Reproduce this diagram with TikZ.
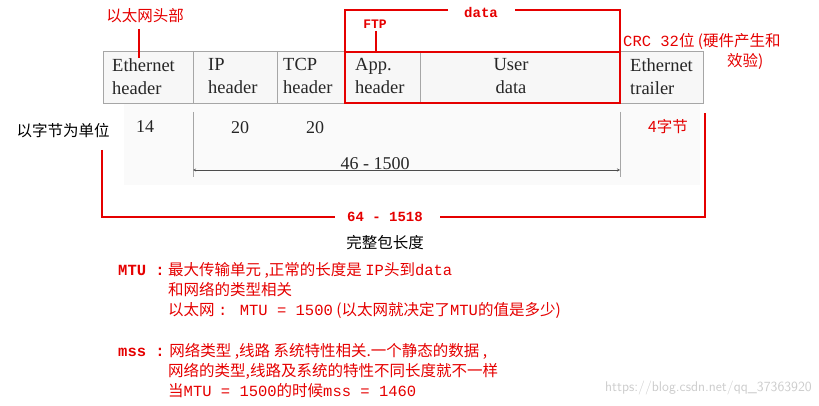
\documentclass[tikz,border=0pt]{standalone}
\usepackage{fontspec}
\setmainfont{Liberation Serif}
\newfontfamily\cjk{Noto Sans CJK SC}
\newfontfamily\mono{Liberation Mono}
\begin{document}
\begin{tikzpicture}[x=1pt,y=-1pt,
  cell/.style={font=\fontsize{18.5}{23}\selectfont,align=left,anchor=north west,inner sep=0,text=black!85},
  num/.style={font=\fontsize{18}{18}\selectfont,inner sep=0,text=black!85},
  red/.style={draw=red!90!black,line width=2.2pt},
  rtxt/.style={text=red!90!black,font=\cjk\fontsize{15.5}{18}\selectfont,inner sep=0,anchor=west},
  ktxt/.style={text=black,font=\cjk\fontsize{15.5}{18}\selectfont,inner sep=0}]
\useasboundingbox (0,0) rectangle (819,406);
\fill[gray!6] (103,51) rectangle (703,103);
\fill[gray!4] (124,103) rectangle (700,185);
\draw[gray!70,line width=0.8pt] (103,51) rectangle (703,103);
\foreach \x in {193,277,345,420,620} \draw[gray!70,line width=0.8pt] (\x,51) -- (\x,103);
\node[cell] (eh) at (112,58) {Ethernet\\header};
\node[cell] (iph) at (208,58) {IP\\header};
\node[cell] (tcph) at (283,58) {TCP\\header};
\node[cell] (apph) at (355,58) {App.\\header};
\node[cell,align=center,anchor=north] (ud) at (511,58) {User\\data};
\node[cell] (et) at (630,58) {Ethernet\\trailer};
\node[num] (n14) at (145,127) {14};
\node[num] (n20a) at (240,128) {20};
\node[num] (n20b) at (315,128) {20};
\node[ktxt] (unit) at (63,131) {以字节为单位};
\node[rtxt,anchor=center] (b4) at (668,127) {4字节};
\coordinate (la) at (193,112); \coordinate (lb) at (193,177);
\coordinate (ra) at (620,112); \coordinate (rb) at (620,177);
\draw[gray!70] (la) -- (lb); \draw[gray!70] (ra) -- (rb);
\coordinate (aa) at (193,170); \coordinate (ab) at (620,170);
\draw[gray!60!black,<->,>=stealth] (aa) -- (ab);
\node[num] (rng) at (375,164) {46 - 1500};
% red data box
\node[text=red!90!black,font=\mono\bfseries\fontsize{14}{14}\selectfont,inner sep=0] (dl) at (481,12) {data};
\draw[red] (448,10) -| (345,103) -- (620,103) |- (515,10);
\draw[red] (345,52) -- (620,52);
\node[text=red!90!black,font=\mono\bfseries\fontsize{13}{13}\selectfont,inner sep=0] (ftp) at (375,24) {FTP};
\draw[red] (376,31) -- (376,52);
\node[rtxt,anchor=center] (eth) at (145,16) {以太网头部};
\draw[red] (139,29) -- (139,58);
\node[rtxt] (crc) at (623,41) {{\mono CRC 32}位 (硬件产生和};
\node[rtxt] (crc2) at (727,61) {效验)};
% bracket
\node[text=red!90!black,font=\mono\bfseries\fontsize{14}{14}\selectfont,inner sep=0] (tot) at (385,217) {64 - 1518};
\draw[red] (102,150) |- (335,217);
\draw[red] (440,217) -| (705,113);
\node[ktxt] (len) at (385,243) {完整包长度};
\node[rtxt] (t1) at (118,270) {{\mono\bfseries MTU :} 最大传输单元 ,正常的长度是 {\mono IP}头到{\mono data}};
\node[rtxt] (t2) at (168,290) {和网络的类型相关};
\node[rtxt] (t3) at (168,310) {以太网 {\mono : MTU = 1500} (以太网就决定了{\mono MTU}的值是多少)};
\node[rtxt] (t4) at (118,351) {{\mono\bfseries mss :} 网络类型 ,线路 系统特性相关.一个静态的数据 ,};
\node[rtxt] (t5) at (168,371) {网络的类型,线路及系统的特性不同长度就不一样};
\node[rtxt] (t6) at (168,391) {当{\mono MTU = 1500}的时候{\mono mss = 1460}};
\node[text=gray!40,font=\fontsize{14}{14}\selectfont\sffamily,anchor=east,inner sep=0] (wm) at (812,388) {https://blog.csdn.net/qq\_37363920};
\end{tikzpicture}
\end{document}
